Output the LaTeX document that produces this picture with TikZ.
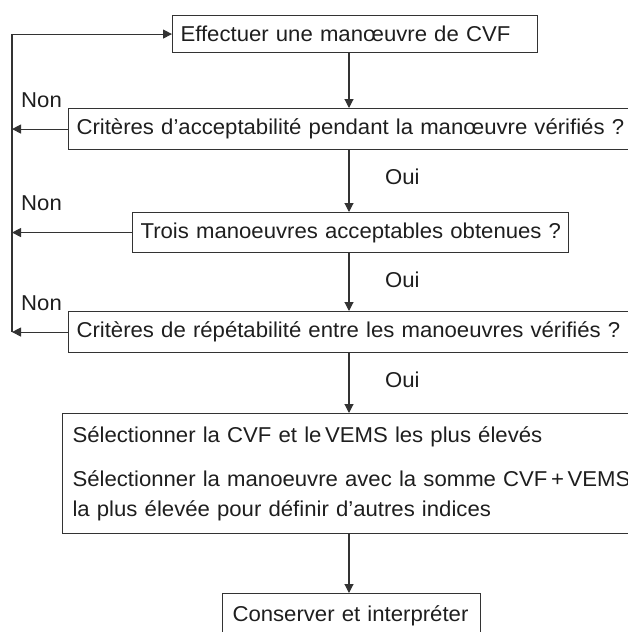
\documentclass[tikz,border=0pt]{standalone}
\usepackage{fontspec}
\setmainfont{Liberation Sans}[FakeStretch=1.03]
\usetikzlibrary{arrows.meta}
\definecolor{linec}{HTML}{333333}
\definecolor{textc}{HTML}{1E1E1E}
\begin{document}
\begin{tikzpicture}[x=1pt,y=-1pt,
  box/.style={draw=linec, line width=1.1pt, anchor=north west, inner ysep=0pt, align=left,
    font=\fontsize{21.5}{25}\selectfont, text=textc},
  conn/.style={draw=linec, line width=1.1pt},
  arr/.style={conn, -{Triangle[length=9pt,width=9pt]}},
  lab/.style={anchor=west, inner sep=0pt, font=\fontsize{21.5}{25}\selectfont, text=textc}]
\useasboundingbox (0,0) rectangle (628,632);
\node[box, inner xsep=8pt, text width=349pt, minimum height=37pt] (b1) at (172,15) {\mbox{Effectuer une manœuvre de CVF}};
\node[box, inner xsep=8pt, text width=584pt, minimum height=41pt] (b2) at (68,108) {\mbox{Critères d’acceptabilité pendant la manœuvre vérifiés ?}};
\node[box, inner xsep=8pt, text width=420pt, minimum height=40pt] (b3) at (132,212) {\mbox{Trois manoeuvres acceptables obtenues ?}};
\node[box, inner xsep=8pt, text width=584pt, minimum height=41pt] (b4) at (68,311) {\mbox{Critères de répétabilité entre les manoeuvres vérifiés ?}};
\node[box, inner xsep=10pt, text width=580pt, minimum height=120pt, font=\fontsize{21.5}{30}\selectfont] (b5) at (62,413) {Sélectionner la CVF et le\,VEMS les plus élevés\\[14pt]Sélectionner la manoeuvre avec la somme CVF\,+\,VEMS\\la plus élevée pour définir d’autres indices};
\node[box, inner xsep=10pt, text width=238pt, minimum height=44pt] (b6) at (222,593) {\mbox{Conserver et interpréter}};
\coordinate (cx) at (349,0);
\coordinate (L) at (12,0);
\node[lab] (n1) at (21,100) {Non};
\node[lab] (n2) at (21,203) {Non};
\node[lab] (n3) at (21,303) {Non};
\node[lab] (o1) at (385,177) {Oui};
\node[lab] (o2) at (385,280) {Oui};
\node[lab] (o3) at (385,380) {Oui};
\draw[arr] (b1.south -| cx) -- (b2.north -| cx);
\draw[arr] (b2.south -| cx) -- (b3.north -| cx);
\draw[arr] (b3.south -| cx) -- (b4.north -| cx);
\draw[arr] (b4.south -| cx) -- (b5.north -| cx);
\draw[arr] (b5.south -| cx) -- (b6.north -| cx);
\draw[arr] (b4.west -| L) -- (b1.west -| L) -- (b1.west);
\draw[arr] (b2.west) -- (b2.west -| L);
\draw[arr] (b3.west) -- (b3.west -| L);
\draw[arr] (b4.west) -- (b4.west -| L);
\end{tikzpicture}
\end{document}
